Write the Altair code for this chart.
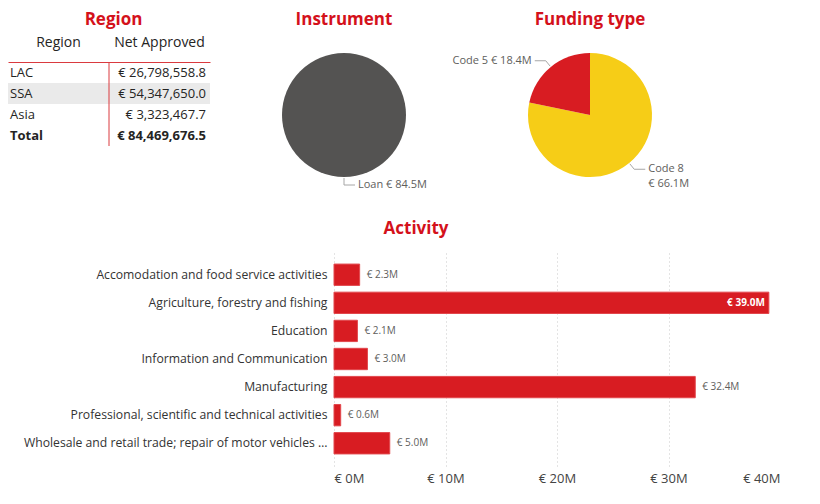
import altair as alt
import numpy as np
import pandas as pd

# ---------------- data ----------------
regions = ["LAC", "SSA", "Asia"]
region_net_approved = [26798558.8, 54347650.0, 3323467.7]
table_columns = ["Region", "Net Approved"]

instrument_names = ["Loan"]
instrument_values = [84.5]  # € M

funding_names = ["Code 8", "Code 5"]
funding_values = [66.1, 18.4]  # € M

activity_names = [
    "Accomodation and food service activities",
    "Agriculture, forestry and fishing",
    "Education",
    "Information and Communication",
    "Manufacturing",
    "Professional, scientific and technical activities",
    "Wholesale and retail trade; repair of motor vehicles …",
]
activity_values = [2.3, 39.0, 2.1, 3.0, 32.4, 0.6, 5.0]  # € M
activity_ticks = [0, 10, 20, 30, 40]

# ---------------- style ----------------
FONT = "Open Sans"
TITLE_RED = "#D4111B"
RED = "#D81C22"
LINE_RED = "#DA3A3F"
YELLOW = "#F6CD17"
DARK_GRAY = "#545352"
TEXT = "#252423"
SUB = "#605E5C"
TOP_PAD = 3


def title(text, offset, dx=0):
    return alt.TitleParams(text, font=FONT, fontSize=17, fontWeight="bold",
                           color=TITLE_RED, anchor="middle", offset=offset,
                           dx=dx, frame="group")


# ---------------- region table ----------------
rows = regions + ["Total"]
row_values = region_net_approved + [sum(region_net_approved)]
cells = pd.DataFrame([
    {"row": r, "col": c, "text": (r if c == "Region" else f"€ {v:,.1f}"),
     "total": r == "Total"}
    for r, v in zip(rows, row_values) for c in table_columns
])

t_xscale = alt.Scale(domain=table_columns, range=[0, 202], paddingInner=0, paddingOuter=0)
t_yscale = alt.Scale(domain=rows, paddingInner=0, paddingOuter=0)
hdr_axis = alt.Axis(orient="top", title=None, labelAngle=0, ticks=False, tickSize=0,
                    domainColor=LINE_RED, domainWidth=1, labelFont=FONT,
                    labelFontSize=14, labelColor=TEXT, labelPadding=13)


def tx(bp=None):
    if bp is None:
        return alt.X("col:N", scale=t_xscale, axis=hdr_axis)
    return alt.X("col:N", scale=t_xscale, axis=hdr_axis, bandPosition=bp)


ty = alt.Y("row:N", scale=t_yscale, axis=None)
tb = alt.Chart(cells)

t_bg = tb.transform_filter("datum.row == 'SSA'").mark_rect(color="#EAEAEA").encode(x=tx(), y=ty)
t_rule = tb.transform_filter("datum.col == 'Net Approved' && datum.row == 'Total'").mark_rule(
    color=LINE_RED, strokeWidth=1).encode(x=tx(0))


def t_text(cond, bp, align, dx, weight):
    return tb.transform_filter(cond).mark_text(
        align=align, baseline="middle", dx=dx, font=FONT, fontSize=13,
        fontWeight=weight, color=TEXT).encode(x=tx(bp), y=ty, text="text:N")


table = alt.layer(
    t_bg, t_rule,
    t_text("datum.col == 'Region' && !datum.total", 0, "left", 2, "normal"),
    t_text("datum.col == 'Net Approved' && !datum.total", 1, "right", -4, "normal"),
    t_text("datum.col == 'Region' && datum.total", 0, "left", 2, "bold"),
    t_text("datum.col == 'Net Approved' && datum.total", 1, "right", -4, "bold"),
).properties(width=241, height=84, title=title("Region", offset=9 - TOP_PAD, dx=-15))


# ---------------- pies ----------------
def pie_chart(names, values, colors, title_text, view_w, view_h, R, wrap_right):
    vals = np.array(values, dtype=float)
    total = vals.sum()
    ends = np.cumsum(vals)
    mids = (ends - vals / 2) / total * 2 * np.pi
    slices = pd.DataFrame({"name": names, "value": values, "idx": list(range(len(names)))})
    leader_rows, label_rows = [], []
    for n, v, a in zip(names, values, mids):
        s, c = np.sin(a), -np.cos(a)
        side = 1 if s > -1e-9 else -1
        p0 = ((R + 1) * s, (R + 1) * c)
        p1 = ((R + 8) * s, (R + 8) * c)
        p2 = (p1[0] + side * 11, p1[1])
        for k, p in enumerate([p0, p1, p2]):
            leader_rows.append({"name": n, "seq": k, "px": p[0], "py": p[1]})
        txt = f"{n} € {v:.1f}M"
        if wrap_right and side > 0:
            txt = f"{n}\n€ {v:.1f}M"
        label_rows.append({"name": n, "side": side, "lx": p2[0] + side * 3,
                           "ly": p2[1], "label": txt})
    leaders = pd.DataFrame(leader_rows)
    labels = pd.DataFrame(label_rows)

    xs = alt.Scale(domain=[-view_w / 2, view_w / 2], nice=False, zero=False)
    ys = alt.Scale(domain=[-view_h / 2, view_h / 2], nice=False, zero=False, reverse=True)

    arcs = alt.Chart(slices).mark_arc(outerRadius=R).encode(
        theta=alt.Theta("value:Q", stack=True),
        color=alt.Color("name:N", scale=alt.Scale(domain=names, range=colors), legend=None),
        order=alt.Order("idx:Q"),
    )
    lines = alt.Chart(leaders).mark_line(color="#A6A6A6", strokeWidth=1).encode(
        x=alt.X("px:Q", scale=xs, axis=None),
        y=alt.Y("py:Q", scale=ys, axis=None),
        detail="name:N",
        order="seq:Q",
    )
    layers = [arcs, lines]
    for sd, al in ((1, "left"), (-1, "right")):
        layers.append(
            alt.Chart(labels).transform_filter(f"datum.side == {sd}").mark_text(
                align=al, baseline="middle", font=FONT, fontSize=11, color=SUB,
                lineBreak="\n", lineHeight=15).encode(
                x=alt.X("lx:Q", scale=xs, axis=None),
                y=alt.Y("ly:Q", scale=ys, axis=None),
                text="label:N")
        )
    return alt.layer(*layers).properties(width=view_w, height=view_h,
                                         title=title(title_text, offset=27 - TOP_PAD))


instr = pie_chart(instrument_names, instrument_values, [DARK_GRAY], "Instrument", 190, 106, 62, False)
fund = pie_chart(funding_names, funding_values, [YELLOW, RED], "Funding type", 302, 106, 62, True)

# ---------------- activity bars ----------------
act = pd.DataFrame({"activity": activity_names, "value": activity_values})
xs = alt.Scale(domain=[activity_ticks[0], activity_ticks[-1]], range=[326, 772], nice=False)
ys = alt.Scale(domain=activity_names, paddingInner=0.24, paddingOuter=0.43)
x_axis = alt.Axis(values=activity_ticks, labelExpr="'€ ' + datum.value + 'M'", title=None,
                  domain=False, ticks=False, tickSize=0, grid=True, gridDash=[1, 3],
                  gridColor="#C8C8C8", labelFont=FONT, labelFontSize=13, labelColor="#444444",
                  labelPadding=6)
y_axis = alt.Axis(title=None, domain=False, ticks=False, tickSize=0, labelFont=FONT,
                  labelFontSize=12.2, labelColor="#333333", labelPadding=7, offset=-326,
                  labelLimit=400)
X = alt.X("value:Q", scale=xs, axis=x_axis)
Y = alt.Y("activity:N", scale=ys, axis=y_axis)

bars = alt.Chart(act).mark_bar(color=RED, stroke="#E2474C", strokeWidth=1).encode(x=X, y=Y)
thr = activity_ticks[-1] * 0.9
lbl_expr = "'€ ' + format(datum.value, '.1f') + 'M'"
out_lab = alt.Chart(act).transform_filter(f"datum.value <= {thr}").transform_calculate(
    lbl=lbl_expr).mark_text(align="left", baseline="middle", dx=7, font=FONT, fontSize=10,
                            color=SUB).encode(x=X, y=Y, text="lbl:N")
in_lab = alt.Chart(act).transform_filter(f"datum.value > {thr}").transform_calculate(
    lbl=lbl_expr).mark_text(align="right", baseline="middle", dx=-4, font=FONT, fontSize=10,
                            fontWeight="bold", color="white").encode(x=X, y=Y, text="lbl:N")

activity = alt.layer(bars, out_lab, in_lab).properties(
    width=772, height=214, title=title("Activity", offset=14, dx=22))

top = alt.hconcat(table, instr, fund, spacing=0).resolve_scale(color="independent")
chart = alt.vconcat(top, activity, spacing=30,
                    padding={"top": TOP_PAD, "left": 0, "right": 0, "bottom": 0},
                    background="white").configure_view(stroke=None)

chart.save("out.html", embed_options={"renderer": "svg", "actions": False})
